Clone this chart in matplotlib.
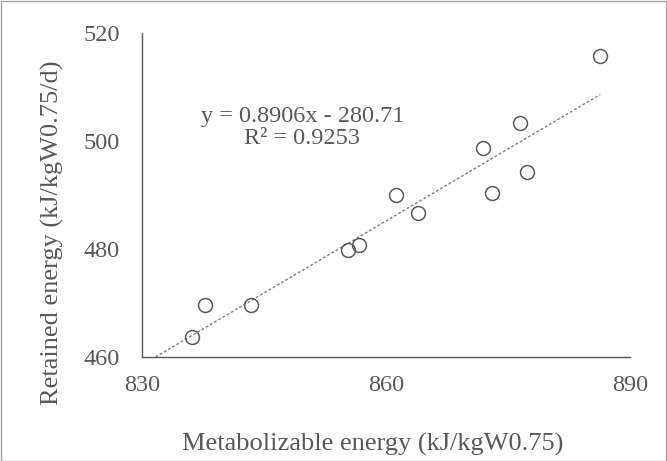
import matplotlib.pyplot as plt
from matplotlib.patches import Rectangle

plt.rcParams['font.family'] = ['Liberation Serif', 'DejaVu Serif']

me = [836.1, 837.7, 843.4, 855.3, 856.7, 861.2, 863.9, 871.9, 873.0, 876.4, 877.3, 886.3]
re = [463.7, 469.6, 469.6, 479.8, 480.7, 490.0, 486.7, 498.7, 490.4, 503.3, 494.3, 515.7]
slope = 0.8906
intercept = -280.71
r2 = 0.9253

grey = "#595959"

fig = plt.figure(figsize=(6.67, 4.61), dpi=100)
ax = fig.add_axes([0.213, 0.226, 0.732, 0.702])

# trendline (Excel style, dotted)
x0, x1 = 826, max(me)
ax.plot([x0, x1], [slope * x0 + intercept, slope * x1 + intercept],
        linestyle=(0, (2, 1.5)), color="#7f7f7f", linewidth=1.0)
ax.plot(me, re, "o", markersize=10, markerfacecolor="none",
        markeredgecolor=grey, markeredgewidth=1.1, linestyle="none")

ax.set_xlim(830, 890)
ax.set_ylim(460, 520)
ax.set_xticks([830, 860, 890])
ax.set_yticks([460, 480, 500, 520])
ax.tick_params(length=0, labelsize=17.5, labelcolor=grey)
ax.tick_params(axis="x", pad=13)
ax.tick_params(axis="y", pad=16)

for s in ["top", "right"]:
    ax.spines[s].set_visible(False)
for s in ["left", "bottom"]:
    ax.spines[s].set_color(grey)
    ax.spines[s].set_linewidth(1.0)

ax.set_xlabel("Metabolizable energy (kJ/kgW0.75)", fontsize=19, color=grey, labelpad=27)
ax.set_ylabel("Retained energy (kJ/kgW0.75/d)", fontsize=19, color=grey, labelpad=14)
ax.xaxis.label.set_x(0.472)
ax.yaxis.label.set_y(0.383)

ax.text(849.7, 502.5, "y = %.4fx - %.2f\nR² = %.4f" % (slope, -intercept, r2),
        fontsize=17.5, color=grey, ha="center", va="center", multialignment="center",
        linespacing=1.1)

fig.patches.append(Rectangle((0.001, 0.001), 0.998, 0.997, transform=fig.transFigure,
                             fill=False, edgecolor="#a0a0a0", linewidth=1.0))

fig.savefig("out.png", dpi=100)
